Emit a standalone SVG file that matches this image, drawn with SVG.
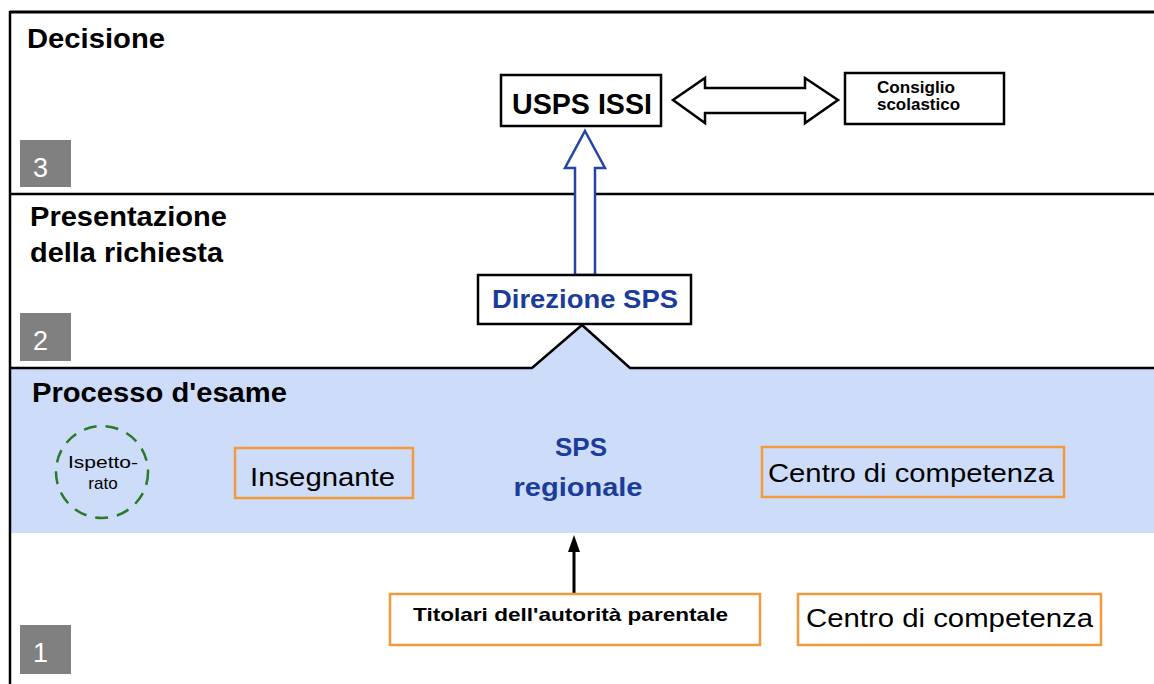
<svg xmlns="http://www.w3.org/2000/svg" width="1154" height="684" viewBox="0 0 1154 684">
<style>
  text { font-family: "Liberation Sans", Arial, sans-serif; }
  .title { font-weight: bold; font-size: 27px; fill: #000; }
  .num { fill: #808080; }
  .numt { font-size: 27px; fill: #fff; }
  .box { fill: #fff; stroke: #000; stroke-width: 2.5; }
  .obox { fill: none; stroke: #f59a3c; stroke-width: 2.5; }
  .blue { fill: #1c3c9c; font-weight: bold; }
  .line { stroke: #000; stroke-width: 2.5; fill: none; }
</style>
<rect width="1154" height="684" fill="#fff"/>
<!-- Process band -->
<path d="M10,368 L532,368 L582,325 L630,368 L1154,368 L1154,533 L10,533 Z" fill="#cddcf8"/>
<!-- frame lines -->
<g id="frame">
  <line class="line" x1="10" y1="12" x2="1154" y2="12" style="stroke-width:3"/>
  <line class="line" x1="10" y1="11" x2="10" y2="684"/>
  <line class="line" x1="10" y1="194" x2="1154" y2="194"/>
  <polyline class="line" points="10,368 532,368 582,325 630,368 1154,368"/>
</g>
<!-- lane labels -->
<g id="lane3">
  <text class="title" x="27" y="48" textLength="138" lengthAdjust="spacingAndGlyphs">Decisione</text>
  <rect class="num" x="20" y="140" width="51" height="47"/>
  <text class="numt" x="33" y="177">3</text>
</g>
<g id="lane2">
  <text class="title" x="30" y="226" textLength="197" lengthAdjust="spacingAndGlyphs">Presentazione</text>
  <text class="title" x="30" y="262" textLength="193" lengthAdjust="spacingAndGlyphs">della richiesta</text>
  <rect class="num" x="20" y="313" width="51" height="48"/>
  <text class="numt" x="33" y="350">2</text>
</g>
<g id="lane-esame">
  <text class="title" x="32" y="402" textLength="255" lengthAdjust="spacingAndGlyphs">Processo d'esame</text>
</g>
<g id="lane1">
  <rect class="num" x="20" y="625" width="51" height="49"/>
  <text class="numt" x="33" y="662">1</text>
</g>
<!-- connectors -->
<g id="connectors">
  <polygon points="673,100 705,78 705,88 805,88 805,78 838,100 805,123 805,113 705,113 705,123" fill="#fff" stroke="#000" stroke-width="2.5" stroke-linejoin="miter"/>
  <polygon points="585,131 605,168 595,168 595,275 575,275 575,168 565,168" fill="#fff" stroke="#2444a8" stroke-width="2.5"/>
  <line x1="574" y1="594" x2="574" y2="550" stroke="#000" stroke-width="3"/>
  <polygon points="574,535 580,552 568,552" fill="#000"/>
</g>
<!-- nodes -->
<g id="usps">
  <rect class="box" x="501" y="75" width="160" height="51"/>
  <text x="512" y="114" font-size="29" font-weight="bold" textLength="140" lengthAdjust="spacingAndGlyphs">USPS ISSI</text>
</g>
<g id="consiglio">
  <rect class="box" x="845" y="73" width="159" height="51"/>
  <text x="877" y="93" font-size="16" font-weight="bold" textLength="78" lengthAdjust="spacingAndGlyphs">Consiglio</text>
  <text x="877" y="110" font-size="16" font-weight="bold" textLength="83" lengthAdjust="spacingAndGlyphs">scolastico</text>
</g>
<g id="direzione">
  <rect class="box" x="478" y="275" width="213" height="49"/>
  <text class="blue" x="492" y="308" font-size="26" textLength="186" lengthAdjust="spacingAndGlyphs">Direzione SPS</text>
</g>
<g id="sps-regionale">
  <text class="blue" x="581" y="456" font-size="26" text-anchor="middle">SPS</text>
  <text class="blue" x="578" y="496" font-size="26" text-anchor="middle" textLength="129" lengthAdjust="spacingAndGlyphs">regionale</text>
</g>
<g id="ispettorato">
  <circle cx="102" cy="472" r="46" fill="none" stroke="#2a7a2a" stroke-width="2.5" stroke-dasharray="13,9"/>
  <text x="103" y="468" font-size="17" text-anchor="middle" textLength="70" lengthAdjust="spacingAndGlyphs">Ispetto-</text>
  <text x="103" y="489" font-size="17" text-anchor="middle">rato</text>
</g>
<g id="insegnante">
  <rect class="obox" x="235" y="448" width="178" height="50"/>
  <text x="250" y="486" font-size="25" textLength="145" lengthAdjust="spacingAndGlyphs">Insegnante</text>
</g>
<g id="centro1">
  <rect class="obox" x="762" y="447" width="302" height="50"/>
  <text x="768" y="482" font-size="26" textLength="286" lengthAdjust="spacingAndGlyphs">Centro di competenza</text>
</g>
<g id="titolari">
  <rect class="obox" x="390" y="594" width="370" height="51"/>
  <text x="413" y="621" font-size="19" font-weight="bold" textLength="315" lengthAdjust="spacingAndGlyphs">Titolari dell'autorità parentale</text>
</g>
<g id="centro2">
  <rect class="obox" x="798" y="594" width="303" height="51"/>
  <text x="806" y="627" font-size="26" textLength="287" lengthAdjust="spacingAndGlyphs">Centro di competenza</text>
</g>
</svg>
